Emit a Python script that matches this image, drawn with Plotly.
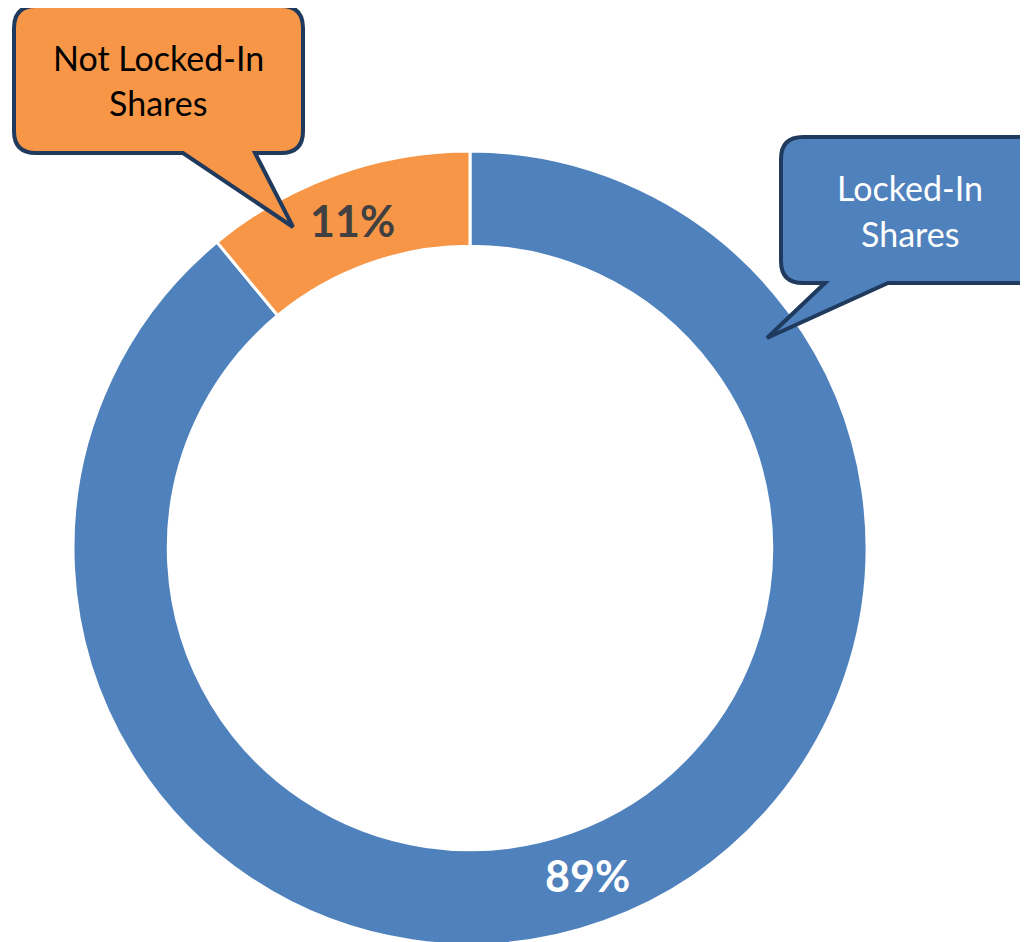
import math
import plotly.graph_objects as go

# ---- data ----
categories = ["Locked-In Shares", "Not Locked-In Shares"]
shares = [89, 11]
pct_labels = ["89%", "11%"]
pct_colors = ["white", "#404040"]
callout_lines = [["Locked-In", "Shares"], ["Not Locked-In", "Shares"]]
callout_text_colors = ["white", "black"]

W, H = 1028, 942
OFF = 8  # page body margin offset
BLUE = "#4F81BD"
ORANGE = "#F79646"
NAVY = "#1F3A5C"
HOLE = 0.76

# pie geometry (page pixels)
CX, CY, R_OUT = 470, 548, 395
R_DOM = R_OUT + 2  # plotly trims a little from the domain


def px(x):
    return (x - OFF) / W


def py(y):
    return 1 - (y - OFF) / H


def bubble(L, R, T, B, r, tail):
    xr, (tx, ty), xl = tail
    d = f"M {px(L + r)},{py(T)} L {px(R - r)},{py(T)} "
    d += f"Q {px(R)},{py(T)} {px(R)},{py(T + r)} "
    d += f"L {px(R)},{py(B - r)} "
    d += f"Q {px(R)},{py(B)} {px(R - r)},{py(B)} "
    d += f"L {px(xr)},{py(B)} L {px(tx)},{py(ty)} L {px(xl)},{py(B)} "
    d += f"L {px(L + r)},{py(B)} "
    d += f"Q {px(L)},{py(B)} {px(L)},{py(B - r)} "
    d += f"L {px(L)},{py(T + r)} "
    d += f"Q {px(L)},{py(T)} {px(L + r)},{py(T)} Z"
    return d


fig = go.Figure(
    go.Pie(
        labels=categories,
        values=shares,
        textinfo="none",
        hole=HOLE,
        sort=False,
        direction="clockwise",
        rotation=0,
        marker=dict(colors=[BLUE, ORANGE], line=dict(color="white", width=3)),
        domain=dict(x=[px(CX - R_DOM), px(CX + R_DOM)],
                    y=[max(0, py(CY + R_DOM)), py(CY - R_DOM)]),
        showlegend=False,
        hoverinfo="label+percent",
    )
)

annotations = []
# percentage labels at the middle of each slice, derived from the data
total = sum(shares)
cum = 0
r_mid = R_OUT * (1 + HOLE) / 2
for v, lab, col in zip(shares, pct_labels, pct_colors):
    mid = (cum + v / 2) / total * 2 * math.pi
    cum += v
    x = CX + r_mid * math.sin(mid)
    y = CY - r_mid * math.cos(mid)
    annotations.append(dict(
        text=lab, x=px(x), y=py(y), xref="paper", yref="paper",
        xanchor="center", yanchor="middle", showarrow=False,
        font=dict(family="Lato", size=43, color=col, weight="bold"),
    ))

shapes = [
    dict(type="path", xref="paper", yref="paper",
         path=bubble(781, 1045, 137, 283, 22, (888, (767, 338), 825)),
         fillcolor=BLUE, line=dict(color=NAVY, width=4), layer="above"),
    dict(type="path", xref="paper", yref="paper",
         path=bubble(14, 303, 6, 153, 22, (255, (293, 227), 183)),
         fillcolor=ORANGE, line=dict(color=NAVY, width=4), layer="above"),
]

callout_pos = [(910, 188), (158, 58)]
for lines, (cx, cy), col in zip(callout_lines, callout_pos, callout_text_colors):
    for i, txt in enumerate(lines):
        annotations.append(dict(
            text=txt, x=px(cx), y=py(cy + 45 * i), xref="paper", yref="paper",
            xanchor="center", yanchor="middle", showarrow=False,
            font=dict(family="Lato", size=34, color=col),
        ))

fig.update_layout(
    width=W, height=H,
    margin=dict(l=0, r=0, t=0, b=0),
    paper_bgcolor="white",
    plot_bgcolor="white",
    shapes=shapes,
    annotations=annotations,
)

fig.write_html("out.html")
